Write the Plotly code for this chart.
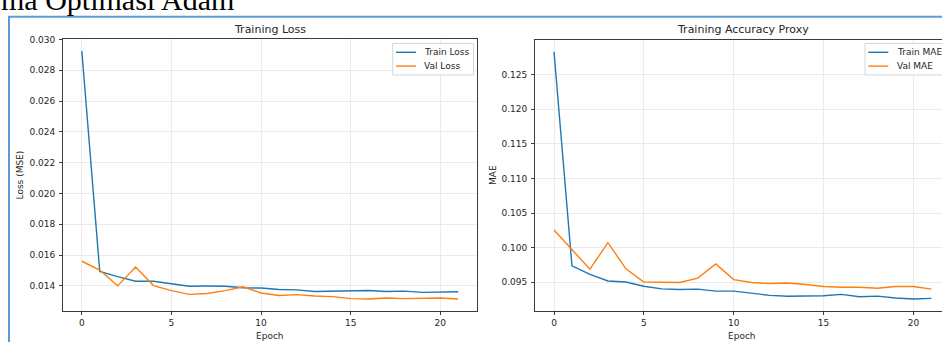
import plotly.graph_objects as go

W, H = 942, 342

epochs = list(range(22))
train_loss = [0.02925, 0.01494, 0.0146, 0.0143, 0.0143, 0.01413, 0.01398, 0.01399, 0.01398, 0.01388,
              0.01386, 0.01377, 0.01374, 0.01364, 0.01366, 0.01368, 0.0137, 0.01364, 0.01366, 0.01358,
              0.01362, 0.01362]
val_loss = [0.0156, 0.01503, 0.0140, 0.01522, 0.01402, 0.01369, 0.01345, 0.01351, 0.01369, 0.01394,
            0.01354, 0.01338, 0.01343, 0.01334, 0.0133, 0.01317, 0.01315, 0.01321, 0.01317, 0.01321,
            0.01321, 0.01315]
train_mae = [0.12830, 0.09736, 0.09613, 0.09518, 0.09504, 0.09443, 0.09404, 0.09396, 0.0940, 0.09372,
             0.09372, 0.0934, 0.09311, 0.09297, 0.0930, 0.09305, 0.09325, 0.09291, 0.0930, 0.09272,
             0.09258, 0.09267]
val_mae = [0.10256, 0.09978, 0.09688, 0.10072, 0.09694, 0.09504, 0.0950, 0.09497, 0.0956, 0.09765,
           0.09538, 0.09496, 0.09481, 0.0949, 0.09467, 0.09438, 0.09428, 0.09428, 0.09414, 0.09438,
           0.09438, 0.0940]

loss_ticks = [0.014, 0.016, 0.018, 0.020, 0.022, 0.024, 0.026, 0.028, 0.030]
mae_ticks = [0.095, 0.100, 0.105, 0.110, 0.115, 0.120, 0.125]
epoch_ticks = [0, 5, 10, 15, 20]

BLUE = "#1f77b4"
ORANGE = "#ff7f0e"
FONT = "DejaVu Sans"
TXT = "#262626"


def px(x):
    return x / W


def py(y):
    return 1 - y / H


fig = go.Figure()
fig.add_trace(go.Scatter(x=epochs, y=train_loss, name="Train Loss", mode="lines",
                         line=dict(color=BLUE, width=1.4), xaxis="x", yaxis="y", showlegend=False))
fig.add_trace(go.Scatter(x=epochs, y=val_loss, name="Val Loss", mode="lines",
                         line=dict(color=ORANGE, width=1.4), xaxis="x", yaxis="y", showlegend=False))
fig.add_trace(go.Scatter(x=epochs, y=train_mae, name="Train MAE", mode="lines",
                         line=dict(color=BLUE, width=1.4), xaxis="x2", yaxis="y2", showlegend=False))
fig.add_trace(go.Scatter(x=epochs, y=val_mae, name="Val MAE", mode="lines",
                         line=dict(color=ORANGE, width=1.4), xaxis="x2", yaxis="y2", showlegend=False))

axis_common = dict(showgrid=True, gridcolor="#ebebeb", gridwidth=1, zeroline=False,
                   showline=True, linecolor="#3a3a3a", linewidth=1,
                   ticks="outside", ticklen=3, tickcolor="#3a3a3a", tickwidth=1,
                   tickfont=dict(family=FONT, size=9, color=TXT))

fig.update_layout(
    width=W, height=H,
    margin=dict(l=0, r=0, t=0, b=0),
    paper_bgcolor="white", plot_bgcolor="white",
    xaxis=dict(domain=[px(63), px(477)], range=[-1.05, 22.05], tickvals=epoch_ticks,
               anchor="y", mirror=True, **axis_common),
    yaxis=dict(domain=[py(311), py(35)], range=[0.01234, 0.0300], tickvals=loss_ticks,
               tickformat=".3f", anchor="x", mirror=True, ticklabelstandoff=2, **axis_common),
    xaxis2=dict(domain=[px(535), 1.0], range=[-1.057, 21.59], tickvals=epoch_ticks,
                anchor="y2", **axis_common),
    yaxis2=dict(domain=[py(311), py(35)], range=[0.09078, 0.13007], tickvals=mae_ticks,
                tickformat=".3f", anchor="x2", ticklabelstandoff=2, **axis_common),
    showlegend=False,
)

shapes = []
# outer blue frame
shapes.append(dict(type="rect", xref="paper", yref="paper", x0=px(9), x1=1.2, y0=-0.2, y1=py(12),
                   line=dict(color="#5b9bd5", width=2), fillcolor="rgba(0,0,0,0)", layer="below"))
# top spine of right panel (right spine falls outside the picture)
shapes.append(dict(type="line", xref="paper", yref="paper", x0=px(535), x1=1.0, y0=py(35), y1=py(35),
                   line=dict(color="#3a3a3a", width=1)))

annotations = []
annotations.append(dict(text="ma Optimasi Adam", xref="paper", yref="paper", x=px(-1), y=py(-5.5),
                        xanchor="left", yanchor="middle", showarrow=False,
                        font=dict(family="Liberation Serif", size=30, color="#000000")))
annotations.append(dict(text="Training Loss", xref="paper", yref="paper", x=px(270), y=py(25),
                        xanchor="center", yanchor="middle", showarrow=False,
                        font=dict(family=FONT, size=11, color=TXT)))
annotations.append(dict(text="Training Accuracy Proxy", xref="paper", yref="paper", x=px(742.5), y=py(25),
                        xanchor="center", yanchor="middle", showarrow=False,
                        font=dict(family=FONT, size=11, color=TXT)))
for cx in (270, 742):
    annotations.append(dict(text="Epoch", xref="paper", yref="paper", x=px(cx), y=py(335.5),
                            xanchor="center", yanchor="middle", showarrow=False,
                            font=dict(family=FONT, size=9, color=TXT)))
annotations.append(dict(text="Loss (MSE)", xref="paper", yref="paper", x=px(20), y=py(173),
                        xanchor="center", yanchor="middle", textangle=-90, showarrow=False,
                        font=dict(family=FONT, size=9, color=TXT)))
annotations.append(dict(text="MAE", xref="paper", yref="paper", x=px(493.5), y=py(173),
                        xanchor="center", yanchor="middle", textangle=-90, showarrow=False,
                        font=dict(family=FONT, size=9, color=TXT)))

# legends drawn from the traces' names and colours
legend_boxes = [(392.7, 473.5, [0, 1]), (865, 960, [2, 3])]
for x0, x1, idxs in legend_boxes:
    shapes.append(dict(type="rect", xref="paper", yref="paper", x0=px(x0), x1=px(x1),
                       y0=py(71), y1=py(39), line=dict(color="#d6d6d6", width=1),
                       fillcolor="rgba(255,255,255,0.85)"))
    for k, i in enumerate(idxs):
        tr = fig.data[i]
        yy = 48 + 14 * k
        shapes.append(dict(type="line", xref="paper", yref="paper", x0=px(x0 + 3.3), x1=px(x0 + 23.3),
                           y0=py(yy), y1=py(yy), line=dict(color=tr.line.color, width=1.4)))
        annotations.append(dict(text=tr.name, xref="paper", yref="paper", x=px(x0 + 29.5), y=py(yy),
                                xanchor="left", yanchor="middle", showarrow=False,
                                font=dict(family=FONT, size=9, color=TXT)))

fig.update_layout(shapes=shapes, annotations=annotations)
fig.write_html("out.html")
